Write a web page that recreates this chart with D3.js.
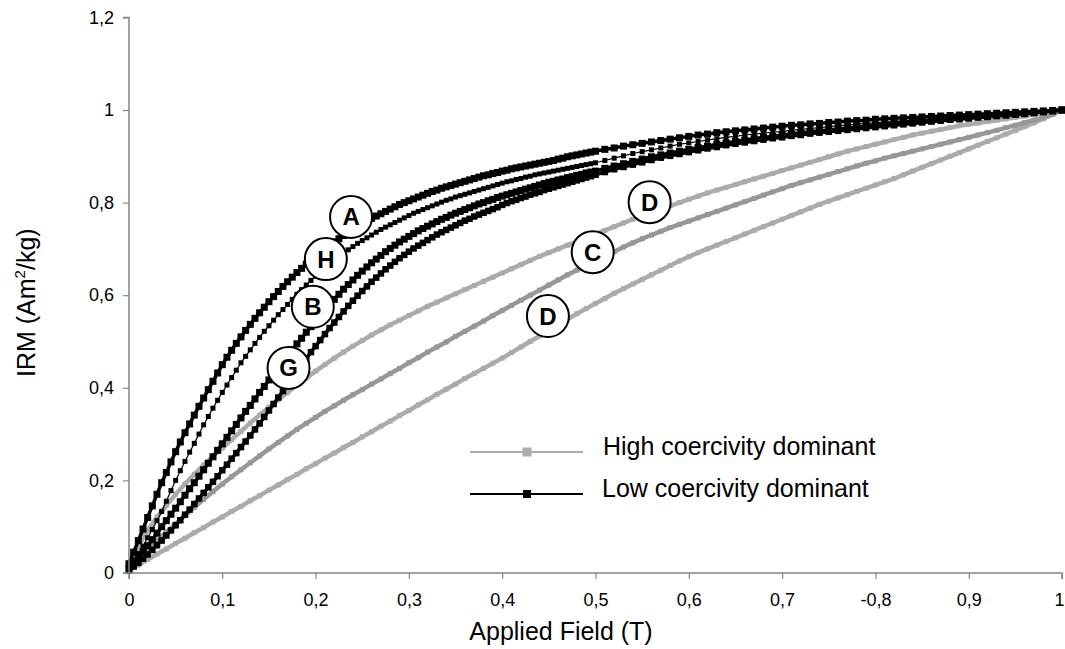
<!DOCTYPE html>
<html>
<head>
<meta charset="utf-8">
<script src="https://cdn.jsdelivr.net/npm/d3@7"></script>
<style>
  body { margin: 0; background: #fff; }
  svg { font-family: "Liberation Sans", Arial, sans-serif; }
</style>
</head>
<body>
<svg id="chart" width="1065" height="649"></svg>
<script>
// IRM acquisition curves, normalised

// field steps (T) of the low coercivity curves
var fieldFine = [0,0.005,0.01,0.015,0.02,0.025,0.03,0.035,0.04,0.045,0.05,0.055,0.06,0.065,0.07,0.075,0.08,0.085,0.09,0.095,0.1,
  0.105,0.11,0.115,0.12,0.125,0.13,0.135,0.14,0.145,0.15,0.155,0.16,0.165,0.17,0.175,0.18,0.185,0.19,0.195,0.2,
  0.205,0.21,0.215,0.22,0.225,0.23,0.235,0.24,0.245,0.25,0.255,0.26,0.265,0.27,0.275,0.28,0.285,0.29,0.295,0.3,
  0.305,0.31,0.315,0.32,0.325,0.33,0.335,0.34,0.345,0.35,0.355,0.36,0.365,0.37,0.375,0.38,0.385,0.39,0.395,0.4,
  0.405,0.41,0.415,0.42,0.425,0.43,0.435,0.44,0.445,0.45,0.455,0.46,0.465,0.47,0.475,0.48,0.485,0.49,0.495,0.5,
  0.51,0.52,0.53,0.54,0.55,0.56,0.57,0.58,0.59,0.6,0.61,0.62,0.63,0.64,0.65,0.66,0.67,0.68,0.69,0.7,
  0.71,0.72,0.73,0.74,0.75,0.76,0.77,0.78,0.79,0.8,0.81,0.82,0.83,0.84,0.85,0.86,0.87,0.88,0.89,0.9,
  0.91,0.92,0.93,0.94,0.95,0.96,0.97,0.98,0.99,1];

// field steps (T) of the high coercivity curves
var fieldCoarse = [0,0.01,0.02,0.03,0.04,0.05,0.06,0.07,0.08,0.09,0.1,0.11,0.12,0.13,0.14,0.15,0.16,0.17,0.18,0.19,0.2,
  0.21,0.22,0.23,0.24,0.25,0.26,0.27,0.28,0.29,0.3,0.31,0.32,0.33,0.34,0.35,0.36,0.37,0.38,0.39,0.4,
  0.41,0.42,0.43,0.44,0.45,0.46,0.47,0.48,0.49,0.5,0.51,0.52,0.53,0.54,0.55,0.56,0.57,0.58,0.59,0.6,
  0.61,0.62,0.63,0.64,0.65,0.66,0.67,0.68,0.69,0.7,0.71,0.72,0.73,0.74,0.75,0.76,0.77,0.78,0.79,0.8,
  0.81,0.82,0.83,0.84,0.85,0.86,0.87,0.88,0.89,0.9,0.91,0.92,0.93,0.94,0.95,0.96,0.97,0.98,0.99,1];

// low coercivity dominant
var irmA = [0.020,0.045,0.070,0.095,0.120,0.145,0.170,0.195,0.217,0.240,0.262,0.283,0.303,0.322,0.341,0.360,0.378,0.396,0.414,0.432,0.450,
  0.466,0.481,0.496,0.510,0.524,0.537,0.550,0.562,0.574,0.586,0.597,0.608,0.619,0.629,0.639,0.649,0.658,0.667,0.676,0.684,
  0.692,0.700,0.708,0.715,0.722,0.729,0.736,0.742,0.748,0.754,0.760,0.766,0.771,0.776,0.781,0.786,0.791,0.796,0.800,0.804,
  0.808,0.812,0.816,0.820,0.824,0.827,0.831,0.834,0.837,0.840,0.843,0.846,0.849,0.852,0.855,0.858,0.860,0.863,0.865,0.868,
  0.870,0.873,0.875,0.877,0.879,0.881,0.883,0.885,0.887,0.889,0.891,0.894,0.896,0.899,0.901,0.903,0.905,0.907,0.909,0.911,
  0.915,0.918,0.922,0.925,0.928,0.931,0.934,0.937,0.940,0.943,0.946,0.948,0.951,0.953,0.955,0.957,0.959,0.961,0.963,0.965,
  0.967,0.968,0.970,0.971,0.973,0.974,0.976,0.977,0.978,0.980,0.981,0.982,0.983,0.984,0.985,0.986,0.987,0.988,0.989,0.990,
  0.991,0.992,0.993,0.994,0.995,0.996,0.997,0.998,0.999,1.000];
var irmH = [0.015,0.028,0.042,0.058,0.076,0.094,0.113,0.133,0.155,0.178,0.200,0.221,0.241,0.261,0.280,0.300,0.320,0.338,0.356,0.373,0.390,
  0.406,0.422,0.438,0.454,0.468,0.482,0.496,0.509,0.522,0.534,0.546,0.558,0.569,0.580,0.591,0.602,0.612,0.622,0.632,0.641,
  0.650,0.659,0.667,0.675,0.683,0.691,0.698,0.705,0.712,0.718,0.724,0.730,0.736,0.742,0.747,0.752,0.757,0.762,0.767,0.772,
  0.777,0.781,0.785,0.789,0.793,0.797,0.801,0.805,0.808,0.812,0.815,0.818,0.821,0.824,0.827,0.830,0.833,0.836,0.839,0.842,
  0.845,0.847,0.850,0.852,0.855,0.857,0.860,0.862,0.864,0.866,0.868,0.870,0.872,0.874,0.876,0.878,0.880,0.882,0.884,0.886,
  0.891,0.896,0.901,0.906,0.910,0.914,0.918,0.922,0.926,0.929,0.932,0.935,0.938,0.941,0.943,0.946,0.948,0.950,0.952,0.954,
  0.956,0.958,0.960,0.962,0.964,0.966,0.968,0.969,0.971,0.972,0.974,0.975,0.977,0.978,0.980,0.981,0.982,0.984,0.985,0.986,
  0.988,0.989,0.990,0.991,0.993,0.994,0.995,0.997,0.998,1.000];
var irmB = [0.010,0.022,0.034,0.046,0.059,0.072,0.086,0.100,0.113,0.127,0.140,0.154,0.168,0.182,0.195,0.209,0.223,0.237,0.251,0.265,0.279,
  0.293,0.307,0.321,0.335,0.349,0.362,0.376,0.390,0.403,0.417,0.430,0.443,0.456,0.469,0.482,0.495,0.507,0.520,0.532,0.544,
  0.556,0.568,0.580,0.591,0.602,0.613,0.623,0.633,0.643,0.652,0.661,0.670,0.678,0.686,0.694,0.701,0.708,0.715,0.721,0.727,
  0.733,0.739,0.744,0.749,0.754,0.759,0.764,0.768,0.773,0.777,0.781,0.785,0.789,0.793,0.797,0.800,0.804,0.807,0.811,0.814,
  0.817,0.820,0.823,0.826,0.829,0.832,0.835,0.838,0.841,0.844,0.846,0.849,0.851,0.854,0.856,0.859,0.861,0.864,0.866,0.868,
  0.874,0.879,0.884,0.889,0.894,0.899,0.903,0.907,0.911,0.915,0.919,0.922,0.926,0.929,0.932,0.935,0.938,0.941,0.943,0.946,
  0.948,0.951,0.953,0.955,0.957,0.959,0.961,0.963,0.965,0.967,0.969,0.971,0.972,0.974,0.976,0.977,0.979,0.980,0.982,0.983,
  0.985,0.986,0.988,0.989,0.991,0.992,0.994,0.996,0.998,1.000];
var irmG = [0.005,0.014,0.022,0.031,0.040,0.050,0.060,0.070,0.081,0.092,0.103,0.114,0.126,0.137,0.149,0.161,0.173,0.185,0.197,0.209,0.222,
  0.234,0.247,0.259,0.272,0.284,0.297,0.310,0.323,0.337,0.351,0.365,0.379,0.393,0.407,0.421,0.435,0.449,0.463,0.477,0.490,
  0.503,0.516,0.529,0.541,0.553,0.565,0.577,0.588,0.599,0.609,0.619,0.629,0.638,0.647,0.656,0.664,0.672,0.680,0.687,0.694,
  0.701,0.707,0.713,0.719,0.725,0.731,0.736,0.741,0.746,0.751,0.756,0.761,0.765,0.770,0.774,0.778,0.782,0.786,0.790,0.795,
  0.799,0.803,0.806,0.810,0.813,0.817,0.820,0.823,0.827,0.830,0.833,0.836,0.839,0.842,0.845,0.848,0.851,0.854,0.857,0.860,
  0.866,0.872,0.877,0.882,0.887,0.892,0.897,0.901,0.905,0.909,0.913,0.917,0.920,0.924,0.927,0.930,0.933,0.936,0.939,0.941,
  0.944,0.946,0.949,0.951,0.953,0.955,0.957,0.959,0.961,0.963,0.965,0.967,0.969,0.971,0.973,0.975,0.977,0.979,0.980,0.982,
  0.984,0.985,0.987,0.989,0.990,0.992,0.994,0.996,0.998,1.000];

// high coercivity dominant
var irmD1 = [0.020,0.058,0.092,0.121,0.146,0.170,0.192,0.213,0.233,0.252,
  0.270,0.288,0.306,0.324,0.341,0.358,0.374,0.390,0.406,0.421,
  0.436,0.450,0.464,0.477,0.490,0.502,0.514,0.525,0.536,0.546,
  0.556,0.566,0.576,0.585,0.594,0.603,0.612,0.621,0.630,0.639,
  0.648,0.657,0.666,0.675,0.684,0.692,0.700,0.708,0.716,0.724,
  0.732,0.740,0.748,0.756,0.764,0.772,0.779,0.786,0.793,0.800,
  0.807,0.814,0.821,0.827,0.833,0.839,0.845,0.851,0.857,0.863,
  0.869,0.875,0.881,0.887,0.893,0.899,0.905,0.911,0.916,0.921,
  0.926,0.931,0.936,0.941,0.946,0.950,0.954,0.958,0.962,0.966,
  0.969,0.972,0.975,0.978,0.981,0.984,0.987,0.990,0.994,0.997,1.000];
var irmC = [0.010,0.030,0.050,0.069,0.088,0.106,0.124,0.142,0.159,0.176,
  0.192,0.208,0.223,0.238,0.253,0.268,0.282,0.296,0.310,0.323,
  0.336,0.349,0.361,0.373,0.385,0.396,0.408,0.419,0.431,0.442,
  0.454,0.465,0.477,0.488,0.499,0.511,0.522,0.533,0.544,0.556,
  0.567,0.578,0.589,0.600,0.611,0.622,0.633,0.644,0.654,0.664,
  0.674,0.684,0.694,0.704,0.713,0.722,0.730,0.738,0.746,0.753,
  0.760,0.767,0.774,0.781,0.788,0.795,0.802,0.809,0.816,0.823,
  0.830,0.837,0.843,0.849,0.855,0.861,0.867,0.873,0.879,0.885,
  0.890,0.896,0.901,0.906,0.911,0.916,0.921,0.926,0.931,0.936,
  0.941,0.946,0.951,0.956,0.962,0.967,0.973,0.978,0.984,0.992,1.000];
var irmD2 = [0.005,0.017,0.029,0.041,0.052,0.064,0.075,0.087,0.098,0.110,
  0.121,0.133,0.144,0.156,0.167,0.179,0.190,0.202,0.213,0.225,
  0.236,0.248,0.259,0.271,0.282,0.294,0.305,0.317,0.328,0.340,
  0.351,0.363,0.374,0.386,0.397,0.408,0.420,0.431,0.442,0.453,
  0.464,0.476,0.488,0.500,0.512,0.524,0.536,0.548,0.560,0.571,
  0.582,0.593,0.604,0.614,0.624,0.634,0.644,0.654,0.664,0.674,
  0.683,0.692,0.700,0.708,0.716,0.724,0.732,0.740,0.748,0.756,
  0.764,0.772,0.780,0.788,0.796,0.803,0.810,0.817,0.824,0.831,
  0.838,0.845,0.852,0.860,0.868,0.876,0.884,0.892,0.900,0.908,
  0.916,0.924,0.932,0.940,0.948,0.956,0.964,0.972,0.981,0.990,1.000];

var xTicks = [0,0.1,0.2,0.3,0.4,0.5,0.6,0.7,0.8,0.9,1];
var xTickLabels = ["0","0,1","0,2","0,3","0,4","0,5","0,6","0,7","-0,8","0,9","1"];
var yTicks = [0,0.2,0.4,0.6,0.8,1,1.2];
var yTickLabels = ["0","0,2","0,4","0,6","0,8","1","1,2"];

// curve letters, placed at field / IRM
var curveLabels = [
  ["D", 0.558, 0.801], ["C", 0.497, 0.693], ["D", 0.449, 0.555],
  ["A", 0.238, 0.769], ["H", 0.211, 0.678], ["B", 0.197, 0.575], ["G", 0.171, 0.443]
];

var svg = d3.select("#chart");

var x = d3.scaleLinear().domain([0, 1]).range([129, 1062]);
var y = d3.scaleLinear().domain([0, 1.2]).range([573, 17.4]);

var line = d3.line()
    .x(function(d) { return x(d[0]); })
    .y(function(d) { return y(d[1]); });

function pairs(xs, ys) {
    return xs.map(function(v, i) { return [v, ys[i]]; });
}

var highCurves = [
    { values: irmD2, color: "#ababab" },
    { values: irmC, color: "#979797" },
    { values: irmD1, color: "#ababab" }
];
var lowCurves = [
    { values: irmG, size: 6.5, width: 3.5 },
    { values: irmB, size: 7, width: 3.5 },
    { values: irmH, size: 5, width: 1.2 },
    { values: irmA, size: 7, width: 3.5 }
];

// grey curves, under the black ones
highCurves.forEach(function(c) {
    var pts = pairs(fieldCoarse, c.values);
    svg.append("path")
        .attr("d", line(pts))
        .attr("fill", "none")
        .attr("stroke", c.color)
        .attr("stroke-width", 4.5);
    svg.append("g").selectAll("rect")
        .data(pts)
        .enter().append("rect")
        .attr("x", function(d) { return x(d[0]) - 2.5; })
        .attr("y", function(d) { return y(d[1]) - 2.5; })
        .attr("width", 5)
        .attr("height", 5)
        .attr("fill", c.color);
});

lowCurves.forEach(function(c) {
    var pts = pairs(fieldFine, c.values);
    svg.append("path")
        .attr("d", line(pts))
        .attr("fill", "none")
        .attr("stroke", "#000")
        .attr("stroke-width", c.width);
    svg.append("g").selectAll("rect")
        .data(pts)
        .enter().append("rect")
        .attr("x", function(d) { return x(d[0]) - c.size / 2; })
        .attr("y", function(d) { return y(d[1]) - c.size / 2; })
        .attr("width", c.size)
        .attr("height", c.size)
        .attr("fill", "#000");
});

// axes
var axisColor = "#858585";
var yAxis = svg.append("g")
    .attr("transform", "translate(129,0)")
    .call(d3.axisLeft(y).tickValues(yTicks).tickSize(6).tickPadding(9)
        .tickFormat(function(d, i) { return yTickLabels[i]; }));
var xAxis = svg.append("g")
    .attr("transform", "translate(0,573)")
    .call(d3.axisBottom(x).tickValues(xTicks).tickSize(6).tickPadding(14)
        .tickFormat(function(d, i) { return xTickLabels[i]; }));

[xAxis, yAxis].forEach(function(a) {
    a.select(".domain").attr("stroke", axisColor).attr("stroke-width", 1.5);
    a.selectAll(".tick line").attr("stroke", axisColor).attr("stroke-width", 1.2);
    a.selectAll(".tick text")
        .attr("fill", "#000")
        .style("font-family", "\"Liberation Sans\", Arial, sans-serif")
        .style("font-size", "18px");
});
yAxis.select(".domain").attr("d", "M-6," + y(1.2) + "H0V" + y(0) + "H-6");
xAxis.select(".domain").attr("d", "M" + x(0) + ",6V0H" + x(1) + "V6");
// last label sits against the right edge
xAxis.selectAll(".tick text").filter(function(d) { return d === 1; })
    .attr("text-anchor", "end")
    .attr("x", 2);

// axis titles
svg.append("text")
    .attr("x", 561)
    .attr("y", 640)
    .attr("text-anchor", "middle")
    .style("font-size", "25px")
    .text("Applied Field (T)");

var yTitle = svg.append("text")
    .attr("transform", "translate(35,377) rotate(-90)")
    .attr("text-anchor", "start")
    .style("font-size", "25px");
yTitle.append("tspan").text("IRM (Am");
yTitle.append("tspan").attr("dy", -10).style("font-size", "15px").text("2");
yTitle.append("tspan").attr("dy", 10).text("/kg)");

// legend
var legend = [
    { label: "High coercivity dominant", color: "#adadad", size: 9, y: 452, tx: 603 },
    { label: "Low coercivity dominant", color: "#000", size: 8, y: 494, tx: 602 }
];
legend.forEach(function(l) {
    svg.append("line")
        .attr("x1", 470).attr("x2", 583)
        .attr("y1", l.y).attr("y2", l.y)
        .attr("stroke", l.color)
        .attr("stroke-width", 2);
    svg.append("rect")
        .attr("x", 527 - l.size / 2).attr("y", l.y - l.size / 2)
        .attr("width", l.size).attr("height", l.size)
        .attr("fill", l.color);
    svg.append("text")
        .attr("x", l.tx).attr("y", l.y + 3)
        .style("font-size", "25px")
        .text(l.label);
});

// circled letters
var lab = svg.append("g").selectAll("g")
    .data(curveLabels)
    .enter().append("g")
    .attr("transform", function(d) { return "translate(" + x(d[1]) + "," + y(d[2]) + ")"; });
lab.append("circle")
    .attr("r", 21)
    .attr("fill", "#fff")
    .attr("stroke", "#000")
    .attr("stroke-width", 2);
lab.append("text")
    .attr("text-anchor", "middle")
    .attr("y", 8.5)
    .style("font-size", "24px")
    .style("font-weight", "bold")
    .text(function(d) { return d[0]; });
</script>
</body>
</html>
